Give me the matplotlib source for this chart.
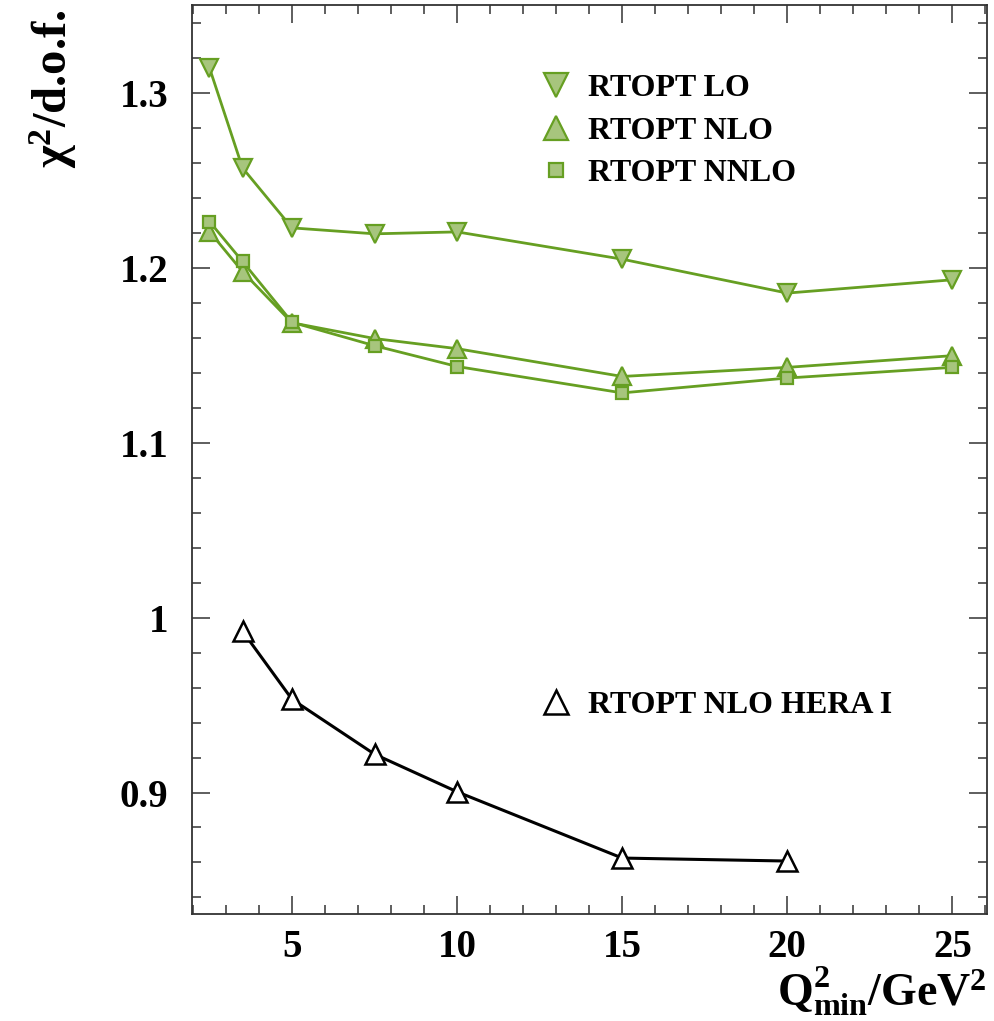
import matplotlib
matplotlib.use("Agg")
import matplotlib.pyplot as plt
from matplotlib.lines import Line2D
from matplotlib.ticker import MultipleLocator, FuncFormatter

# Q^2_min cuts (GeV^2)
q2_min = [2.5, 3.5, 5, 7.5, 10, 15, 20, 25]
q2_min_hera1 = [3.5, 5, 7.5, 10, 15, 20]

# chi^2 / d.o.f. for each fit
chi2_lo = [1.3145, 1.2573, 1.2230, 1.2196, 1.2207, 1.2051, 1.1857, 1.1933]
chi2_nlo = [1.2209, 1.1980, 1.1687, 1.1597, 1.1539, 1.1380, 1.1432, 1.1499]
chi2_nnlo = [1.2266, 1.2038, 1.1690, 1.1556, 1.1437, 1.1286, 1.1371, 1.1432]
chi2_nlo_hera1 = [0.9923, 0.9533, 0.9219, 0.9004, 0.8625, 0.8608]

labels_green = ["RTOPT LO", "RTOPT NLO", "RTOPT NNLO"]
label_hera1 = "RTOPT NLO HERA I"

plt.rcParams["font.family"] = ["Liberation Serif", "DejaVu Serif"]
plt.rcParams["font.weight"] = "bold"
plt.rcParams["mathtext.fontset"] = "custom"
plt.rcParams["mathtext.rm"] = "Liberation Serif:bold"
plt.rcParams["mathtext.it"] = "Liberation Serif:bold"
plt.rcParams["mathtext.bf"] = "Liberation Serif:bold"
plt.rcParams["mathtext.default"] = "rm"

GREEN = "#669f22"
GREEN_FILL = "#a7c57d"
AXCOL = "#333333"
FS_LEG = 23

fig = plt.figure(figsize=(9.95, 10.21), dpi=100)
ax = fig.add_axes([192 / 995, 1 - 914 / 1021, 795 / 995, 909 / 1021])

ax.plot(q2_min, chi2_lo, color=GREEN, lw=2.0, marker="v", ms=13,
        mfc=GREEN_FILL, mec=GREEN, mew=1.6)
ax.plot(q2_min, chi2_nlo, color=GREEN, lw=2.0, marker="^", ms=13,
        mfc=GREEN_FILL, mec=GREEN, mew=1.6)
ax.plot(q2_min, chi2_nnlo, color=GREEN, lw=2.0, marker="s", ms=8,
        mfc=GREEN_FILL, mec=GREEN, mew=1.6)
ax.plot(q2_min_hera1, chi2_nlo_hera1, color="black", lw=2.2, marker="^",
        ms=14, mfc="white", mec="black", mew=1.8)

ax.set_xlim(1.97, 26.05)
ax.set_ylim(0.8305, 1.3505)

ax.xaxis.set_major_locator(MultipleLocator(5))
ax.xaxis.set_minor_locator(MultipleLocator(1))
ax.yaxis.set_major_locator(MultipleLocator(0.1))
ax.yaxis.set_minor_locator(MultipleLocator(0.02))
ax.yaxis.set_major_formatter(FuncFormatter(lambda v, p: f"{v:g}"))

ax.tick_params(which="both", direction="in", top=True, right=True,
               color=AXCOL, width=1.1)
ax.tick_params(which="major", length=13)
ax.tick_params(which="minor", length=6.3)
ax.tick_params(axis="y", which="major", labelsize=28, pad=17)
ax.tick_params(axis="x", which="major", labelsize=28, pad=11)
for lab in ax.get_xticklabels() + ax.get_yticklabels():
    lab.set_fontweight("bold")
for sp in ax.spines.values():
    sp.set_color(AXCOL)
    sp.set_linewidth(1.3)

ax.set_ylabel(r"$\chi^{2}$/d.o.f.", fontsize=35, fontweight="bold",
              ha="right", va="baseline")
ax.yaxis.set_label_coords(-(192 - 67) / 795, (914 - 10) / 909)
ax.set_xlabel(r"$\mathrm{Q^{2}_{min}/GeV^{2}}$", fontsize=33, ha="right",
              va="baseline")
ax.xaxis.set_label_coords(1.0, -(1005 - 914) / 909)

# Legends (markers only)
green_handles = [
    Line2D([], [], ls="none", marker="v", ms=13, mfc=GREEN_FILL, mec=GREEN, mew=1.6),
    Line2D([], [], ls="none", marker="^", ms=13, mfc=GREEN_FILL, mec=GREEN, mew=1.6),
    Line2D([], [], ls="none", marker="s", ms=8, mfc=GREEN_FILL, mec=GREEN, mew=1.6),
]
leg1 = ax.legend(green_handles, labels_green, loc="upper left",
                 bbox_to_anchor=((540 - 192) / 795, (914 - 74) / 909),
                 frameon=False, fontsize=FS_LEG, markerscale=1.3,
                 handlelength=1.0, handletextpad=0.5, labelspacing=0.41,
                 borderpad=0, borderaxespad=0)
for t in leg1.get_texts():
    t.set_fontweight("bold")
ax.add_artist(leg1)

hera_handle = [Line2D([], [], ls="none", marker="^", ms=14, mfc="white",
                      mec="black", mew=1.8)]
leg2 = ax.legend(hera_handle, [label_hera1], loc="upper left",
                 bbox_to_anchor=((540 - 192) / 795, (914 - 691) / 909),
                 frameon=False, fontsize=FS_LEG, markerscale=1.25,
                 handlelength=1.0, handletextpad=0.5,
                 borderpad=0, borderaxespad=0)
for t in leg2.get_texts():
    t.set_fontweight("bold")

fig.savefig("out.png", dpi=100)
